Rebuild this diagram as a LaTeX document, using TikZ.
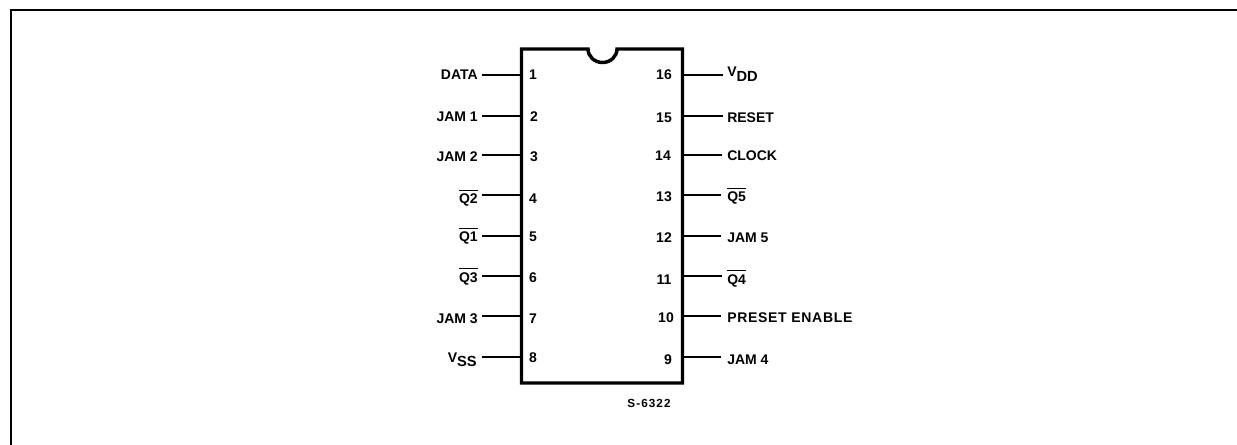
\documentclass[tikz,border=0pt]{standalone}
\usepackage{fontspec}
\setmainfont{Liberation Sans}
\newcommand{\ovl}[1]{\vbox{\hrule height 0.9pt \kern 2.6pt \hbox{#1}}}
\newcommand{\subt}[1]{\raisebox{-3.5pt}{\fontsize{11}{12}\selectfont\bfseries #1}}
\tikzset{
  x=0.75pt,y=-0.75pt,
  chip/.style={line width=2.6pt,line join=miter},
  pin/.style={line width=0.9pt},
  frameline/.style={line width=1.5pt},
  lab/.style={font=\fontsize{10.5}{12}\selectfont\bfseries,inner sep=0pt,text=black},
  num/.style={font=\fontsize{10.5}{12}\selectfont\bfseries,inner sep=0pt,text=black,anchor=base},
  small/.style={font=\fontsize{8.8}{10}\selectfont\bfseries\addfontfeature{LetterSpace=9},inner sep=0pt,text=black,anchor=base},
}
\begin{document}
\begin{tikzpicture}
\useasboundingbox (0,0) rectangle (1237,445);
\draw[frameline] (11,445) -- (11,10) -- (1237,10);
\draw[chip] (521.5,49) -- (588,49) arc[start angle=180,end angle=360,x radius=14.5,y radius=-13.5] -- (682.5,49) -- (682.5,383) -- (521.5,383) -- cycle;
\foreach \n/\y/\b/\nx/\t in {1/75/80/533/DATA,2/116/122/534/JAM 1,3/155/162/534/JAM 2,4/195/204/533/\ovl{Q2},5/236/242/533/\ovl{Q1},6/276/282/533/\ovl{Q3},7/316/323/533/JAM 3}{
  \coordinate (l\n) at (521,\y);
  \coordinate (ls\n) at (482,\y);
  \draw[pin] (ls\n) -- (l\n);
  \node[lab,anchor=base east] (lt\n) at (478,\b) {\t};
  \node[num] (ln\n) at (\nx,\b) {\n};
}
\coordinate (l8) at (521,357); \coordinate (ls8) at (482,357);
\draw[pin] (ls8) -- (l8);
\node[lab,anchor=base east] (lt8) at (477,362) {V\subt{SS}};
\node[num] (ln8) at (533,362) {8};
\foreach \n/\y/\e/\b/\nx/\t in {15/116/723/123/664/RESET,14/155/722/161/663/CLOCK,13/195/721/202/664/\ovl{Q5},12/236/721/243/664/JAM 5,11/276/722/284/664/\ovl{Q4},9/357/721/364/668/JAM 4}{
  \coordinate (r\n) at (683,\y);
  \coordinate (re\n) at (\e,\y);
  \draw[pin] (r\n) -- (re\n);
  \node[lab,anchor=base west] (rt\n) at (727,\b) {\t};
  \node[num] (rn\n) at (\nx,\b) {\n};
}
\coordinate (r16) at (683,75); \coordinate (re16) at (723,75);
\draw[pin] (r16) -- (re16);
\node[lab,anchor=base west] (vdd) at (727,77) {V\subt{DD}};
\node[num] (rn16) at (664,80) {16};
\coordinate (r10) at (683,316); \coordinate (re10) at (721,316);
\draw[pin] (r10) -- (re10);
\node[lab,anchor=base west] (rt10) at (727,322) {\addfontfeature{LetterSpace=5}PRESET ENABLE};
\node[num] (rn10) at (666,322) {10};
\node[small] (code) at (649,407) {S-6322};
\end{tikzpicture}
\end{document}
